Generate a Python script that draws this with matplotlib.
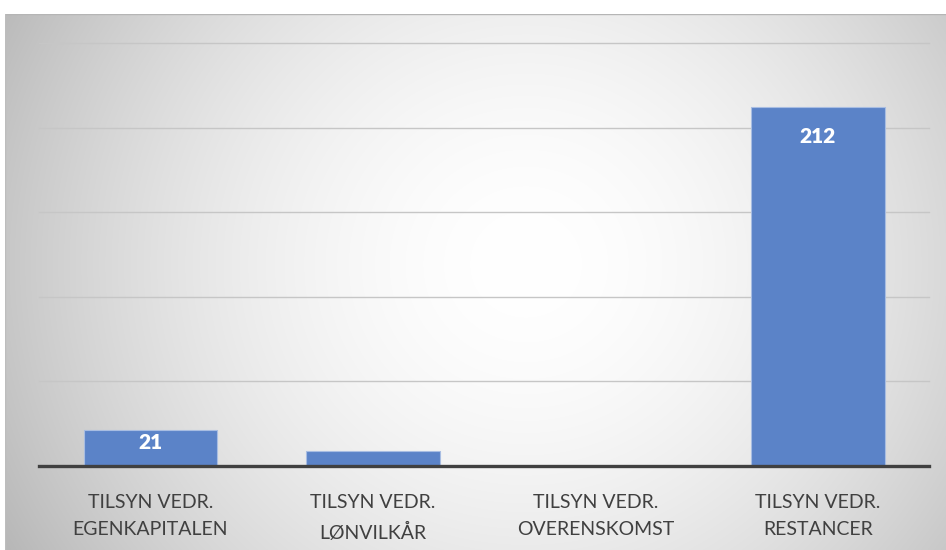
import numpy as np
import matplotlib
matplotlib.use("Agg")
import matplotlib.pyplot as plt

categories = ["TILSYN VEDR.\nEGENKAPITALEN", "TILSYN VEDR.\nLØNVILKÅR",
              "TILSYN VEDR.\nOVERENSKOMST", "TILSYN VEDR.\nRESTANCER"]
values = [21, 9, 0, 212]
labels = ["21", "", "", "212"]
y_ticks = [50, 100, 150, 200, 250]

W, H = 946, 550
fig = plt.figure(figsize=(W / 100, H / 100), dpi=100)
fig.patch.set_facecolor("white")

# radial gradient background
bx0, by0 = 5, 14
bg = fig.add_axes([bx0 / W, 0, (W - bx0) / W, (H - by0) / H])
bw, bh = W - bx0, H - by0
xx, yy = np.meshgrid(np.arange(bw), np.arange(bh))
cx, cy = 520, 250
d = np.sqrt((xx - cx) ** 2 + ((yy - cy) * 1.05) ** 2) / 580.0
d = np.clip(d, 0, 1.1)
v = (255 - 68 * d ** 1.8) / 255.0
img = np.dstack([v, v, v])
bg.imshow(img, aspect="auto", interpolation="bilinear")
bg.set_axis_off()
bg.plot([0, bw - 1], [0, 0], color="#b5b5b5", lw=1)
bg.plot([0, 0], [0, bh - 1], color="#bdbdbd", lw=1)
bg.set_xlim(0, bw - 1)
bg.set_ylim(bh - 1, 0)

left, right = 39, 929
top, base = 43, 466
ax = fig.add_axes([left / W, (H - base) / H, (right - left) / W, (base - top) / H])
ax.set_facecolor("none")
x = np.arange(len(categories))
ax.set_xlim(-0.5, len(categories) - 0.5)
ax.set_ylim(0, 250)
for t in y_ticks:
    ax.axhline(t, color="#c6c6c6", lw=1.0, zorder=1, clip_on=False)
bars = ax.bar(x, values, width=0.6, color="#5b83c8", edgecolor="#a8bde2",
              linewidth=0.8, zorder=2)
ax.axhline(0, color="#404040", lw=2.4, zorder=3, clip_on=False)

for xi, val, lab in zip(x, values, labels):
    if lab:
        yc = val - min(17, val * 0.33)
        ax.text(xi, yc, lab, ha="center", va="center", color="white",
                fontsize=15, fontweight="heavy", family=["Lato", "DejaVu Sans"], zorder=4)

ax.set_xticks(x)
ax.set_xticklabels(categories, fontsize=14, color="#404040",
                   family=["Lato", "DejaVu Sans"], linespacing=1.75)
ax.tick_params(axis="x", length=0, pad=20)
ax.set_yticks([])
for s in ax.spines.values():
    s.set_visible(False)

fig.savefig("out.png", dpi=100)
